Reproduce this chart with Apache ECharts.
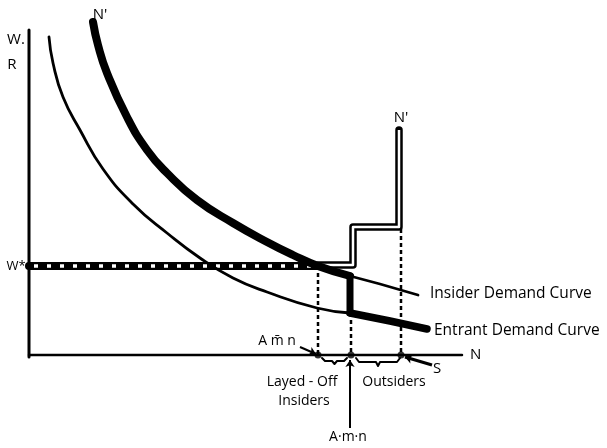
<!DOCTYPE html>
<html>
<head>
<meta charset="utf-8">
<script src="https://cdn.jsdelivr.net/npm/echarts@6/dist/echarts.min.js"></script>
<style>
	html, body { margin: 0; padding: 0; background: #fff; }
	#chart { width: 607px; height: 448px; }
</style>
</head>
<body>
<div id="chart"></div>
<script>
	// units: N = employment, W = wage (origin at the corner of the axes)
	var W_STAR = 89;
	var N_LAYOFF = 289;   // A m̄ n
	var N_AMN = 321;      // A·m·n
	var N_S = 372;        // S

	// insider demand curve N' (thick part, then thin tail)
	var insiderThick = [[64, 333], [69, 310], [78, 282], [98, 238], [118, 205],
		[138, 182], [168, 155], [204, 132], [238, 113], [264, 100], [289, 89], [321, 79]];
	var insiderThin = [[321, 79], [351, 71], [389, 60]];

	// entrant demand curve (thin part, then thick tail)
	var entrantThin = [[20, 318], [24, 292], [34, 258], [51, 225], [74, 186], [104, 151], [138, 122],
		[171, 97], [204, 77], [238, 63], [288, 47], [321, 42]];
	var entrantThick = [[321, 42], [361, 34], [398, 26]];

	// labour supply step N'
	var supplyStep = [[289, 90], [324, 90], [324, 128], [370, 128], [370, 225]];

	var chart = echarts.init(document.getElementById('chart'));

	function curve(data, width, smooth) {
		return {
			type: 'line',
			data: data,
			smooth: smooth,
			symbol: 'none',
			silent: true,
			lineStyle: { color: '#000', width: width, cap: 'round', join: 'round' }
		};
	}

	function dashed(x, y0) {
		return {
			type: 'line',
			data: [[x, y0], [x, 0]],
			symbol: 'none',
			lineStyle: { color: '#000', width: 2.5, type: [4, 3] }
		};
	}

	var txt = { fill: '#000', fontFamily: 'Open Sans', fontSize: 14 };
	function label(x, y, s, size, align) {
		return {
			type: 'text', x: x, y: y,
			style: Object.assign({}, txt, {
				text: s, fontSize: size || 14, textAlign: align || 'left', textVerticalAlign: 'middle'
			})
		};
	}

	var option = {
		animation: false,
		grid: { left: 0, right: 0, top: 0, bottom: 0 },
		xAxis: { type: 'value', min: -29, max: 578, show: false },
		yAxis: { type: 'value', min: -93, max: 355, show: false },
		series: [
			// axes
			curve([[0, -2], [0, 325]], 3, false),
			curve([[0, 0], [433, 0]], 2.5, false),
			// dashed drops to the N axis
			dashed(N_LAYOFF, W_STAR),
			dashed(N_AMN + 1, 42),
			dashed(N_S, 126),
			// W* line: thick with white dots
			curve([[0, W_STAR], [N_LAYOFF, W_STAR]], 8, false),
			{
				type: 'line', data: [[3, W_STAR], [N_LAYOFF, W_STAR]], symbol: 'none',
				lineStyle: { color: '#fff', width: 3.5, type: [4, 9], dashOffset: -2 }
			},
			// supply step drawn as double line
			curve(supplyStep, 7.5, false),
			{
				type: 'line', data: supplyStep, symbol: 'none',
				lineStyle: { color: '#fff', width: 2.5, join: 'round' }
			},
			// demand curves
			curve(entrantThin, 2.8, 0.5),
			curve(insiderThin, 2.8, false),
			curve(insiderThick, 8, 0.5),
			curve(entrantThick, 7.5, false),
			curve([[N_AMN, 79], [N_AMN, 42]], 7, false),
			// points on the axis
			{
				type: 'scatter',
				data: [[N_LAYOFF, 0], [N_AMN + 1, 0], [N_S, 0]],
				symbolSize: 7,
				itemStyle: { color: '#000' }
			},
			// braces
			curve([[293, -3], [296, -6], [303, -6], [305.5, -9], [308, -6], [315, -6], [318, -3]], 2, false),
			curve([[327, -3], [330, -7], [347, -7], [349, -11], [351, -7], [368, -7], [371, -3]], 2, false),
			// pointers
			{
				type: 'lines',
				coordinateSystem: 'cartesian2d',
				symbol: ['none', 'arrow'],
				symbolSize: 7,
				lineStyle: { color: '#000', width: 2, opacity: 1, curveness: 0 },
				data: [
					{ coords: [[271, 8], [287, 1]] },
					{ coords: [[403, -10], [376, -2]], lineStyle: { width: 3 } },
					{ coords: [[N_AMN, -73], [N_AMN, -5]] }
				]
			}
		],
		graphic: [
			label(16, 40, 'W.', 15, 'center'),
			label(12, 65, 'R', 15, 'center'),
			label(16, 266, 'W*', 13, 'center'),
			label(100, 15, "N'", 15, 'center'),
			label(401, 118, "N'", 15, 'center'),
			label(430, 294, 'Insider Demand Curve', 15.5),
			label(434, 331, 'Entrant Demand Curve', 15.5),
			label(470, 355, 'N', 15),
			label(277, 341, 'A m̄ n', 14, 'center'),
			label(437, 369, 'S', 15, 'center'),
			label(302, 382, 'Layed - Off', 14, 'center'),
			label(304, 401, 'Insiders', 14, 'center'),
			label(394, 382, 'Outsiders', 14, 'center'),
			label(348, 437, 'A·m·n', 14, 'center')
		]
	};

	chart.setOption(option);
</script>
</body>
</html>
